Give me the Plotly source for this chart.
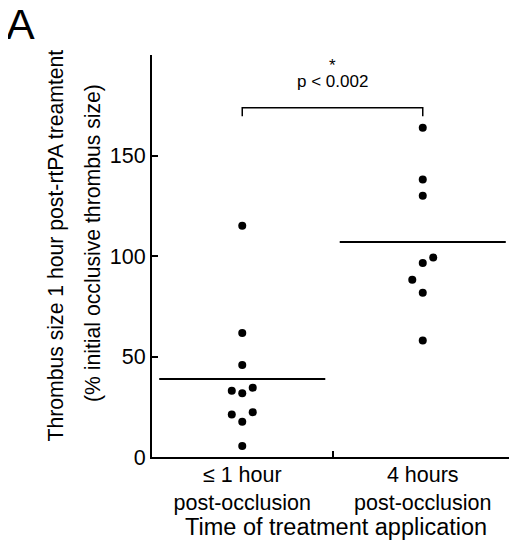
import numpy as np
import plotly.graph_objects as go

# ---- data ----
categories = ["≤ 1 hour<br>post-occlusion", "4 hours<br>post-occlusion"]
early_values = [115, 61.7, 45.8, 34.5, 33, 31.7, 22.3, 21.2, 17.5, 5.5]
late_values = [163.8, 138, 130, 99.2, 96.5, 88.2, 81.7, 58]
y_tick_values = [0, 50, 100, 150, 200]
y_tick_labels = ["0", "50", "100", "150", ""]
p_label = "p < 0.002"
star_label = "*"

# ---- presentation (positions / styles) ----
early_jitter = [0, 0, 0, 1, -1, 0, 1, -1, 0, 0]
late_jitter = [0, 0, 0, 1, 0, -1, 0, 0]
JIT = 0.058
HALF = 0.46
FONT = "Arial, Liberation Sans, sans-serif"

OFF = 8  # default page body margin
W, H = 517 - OFF, 545 - OFF
L, R, T, B = 152 - OFF, 4, 55 - OFF, 88
PW, PH = W - L - R, H - T - B

def px_x(px):
    """page pixel x -> paper coordinate"""
    return (px - OFF - L) / PW

def px_y(py):
    """page pixel y -> paper coordinate"""
    return (H - B - (py - OFF)) / PH

groups = [early_values, late_values]
jitters = [early_jitter, late_jitter]

fig = go.Figure()
for i, (vals, jit) in enumerate(zip(groups, jitters)):
    center = i + 0.5
    fig.add_trace(go.Scatter(
        x=[center + j * JIT for j in jit], y=vals, mode="markers",
        marker=dict(color="black", size=8), showlegend=False, hoverinfo="y"))
    m = float(np.mean(vals))
    fig.add_trace(go.Scatter(
        x=[center - HALF, center + HALF], y=[m, m], mode="lines",
        line=dict(color="black", width=2), showlegend=False, hoverinfo="skip"))

# significance bracket between group centers
br_top, br_bot = 173.8, 169.5
fig.add_trace(go.Scatter(
    x=[0.5, 0.5, 1.5, 1.5], y=[br_bot, br_top, br_top, br_bot], mode="lines",
    line=dict(color="black", width=1.5), showlegend=False, hoverinfo="skip"))

# invisible trace for secondary x-axis (tick marks at category boundaries)
fig.add_trace(go.Scatter(x=[0, 2], y=[0, 0], xaxis="x2", mode="markers",
                         marker=dict(opacity=0), showlegend=False, hoverinfo="skip"))

fig.update_layout(
    width=W, height=H,
    margin=dict(l=L, r=R, t=T, b=B, autoexpand=False),
    paper_bgcolor="white", plot_bgcolor="white",
    font=dict(family=FONT, color="black", size=21),
    xaxis=dict(range=[0, 2], tickvals=[0.5, 1.5], ticktext=categories,
               showline=True, linewidth=2, linecolor="black", ticks="",
               showgrid=False, zeroline=False, tickfont=dict(size=21.5),
               ticklabelstandoff=-3, automargin=False),
    xaxis2=dict(range=[0, 2], overlaying="x", side="bottom", tickvals=[1, 2],
                showticklabels=False, ticks="inside", ticklen=6, tickwidth=2,
                tickcolor="black", showline=False, showgrid=False, zeroline=False),
    yaxis=dict(range=[0, 200], tickvals=y_tick_values, ticktext=y_tick_labels,
               showline=True, linewidth=2, linecolor="black", ticks="inside",
               ticklen=6, tickwidth=2, tickcolor="black", showgrid=False,
               zeroline=False, tickfont=dict(size=21.5), automargin=False),
)

ann = [
    dict(text="A", x=px_x(4), y=px_y(-2), xanchor="left", yanchor="top",
         font=dict(size=43)),
    dict(text="Thrombus size 1 hour post-rtPA treamtent", x=px_x(55.5), y=px_y(246),
         textangle=-90, xanchor="center", yanchor="middle", font=dict(size=21.2)),
    dict(text="(% initial occlusive thrombus size)", x=px_x(93), y=px_y(243),
         textangle=-90, xanchor="center", yanchor="middle", font=dict(size=21.2)),
    dict(text="Time of treatment application", x=px_x(336), y=px_y(527),
         xanchor="center", yanchor="middle", font=dict(size=23.5)),
    dict(text=p_label, x=1.0, xref="x", y=px_y(82), xanchor="center",
         yanchor="middle", font=dict(size=17)),
    dict(text=star_label, x=1.0, xref="x", y=px_y(65), xanchor="center",
         yanchor="middle", font=dict(size=17)),
]
for a in ann:
    a.setdefault("xref", "paper")
    a.setdefault("yref", "paper")
    a["showarrow"] = False
    fig.add_annotation(**a)

fig.write_html("out.html")
